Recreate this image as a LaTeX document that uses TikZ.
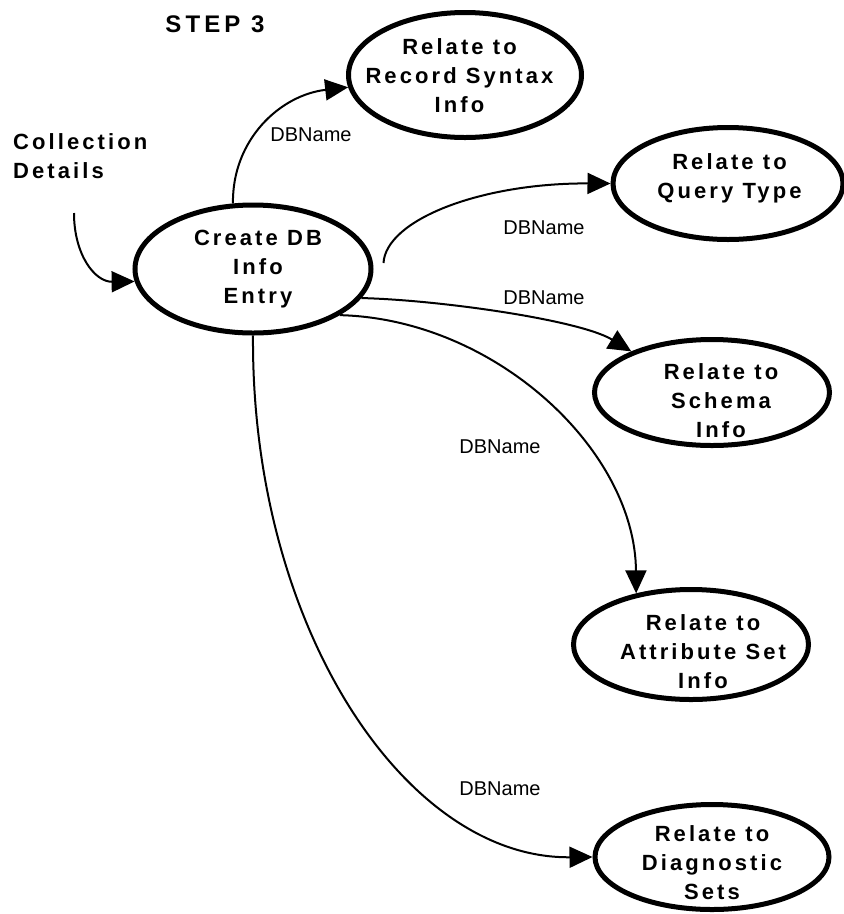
\documentclass[tikz,border=0pt]{standalone}
\usepackage{fontspec}
\setmainfont{Liberation Sans}
\newfontfamily\boxfont[LetterSpace=14]{Liberation Sans}
\newfontfamily\stepfont[LetterSpace=17]{Liberation Sans}
\usetikzlibrary{shapes.geometric,arrows.meta}

\tikzset{
  proc/.style={ellipse, draw, line width=5pt, inner sep=0pt},
  proctext/.style={align=center, inner sep=0pt,
    font=\boxfont\bfseries\fontsize{22}{29}\selectfont},
  flow/.style={line width=2pt, -{Triangle[length=23pt,width=21pt]}},
  flowlbl/.style={inner sep=0pt, font=\fontsize{20}{24}\selectfont},
}

\begin{document}
\begin{tikzpicture}[x=1pt,y=-1pt]
\useasboundingbox (0,0) rectangle (844,914);

% processes
\node[proc, minimum width=236pt, minimum height=128pt] (create) at (253,269) {};
\node[proc, minimum width=233pt, minimum height=125pt] (rec)    at (465,75)  {};
\node[proc, minimum width=230pt, minimum height=112pt] (qry)    at (728,183.5) {};
\node[proc, minimum width=235pt, minimum height=106pt] (sch)    at (712,392.5) {};
\node[proc, minimum width=235pt, minimum height=110pt] (att)    at (691,644.5) {};
\node[proc, minimum width=234pt, minimum height=105pt] (diag)   at (712,857) {};

% process names
\node[proctext] (create-t) at (258,269.5) {Create DB\\Info\\Entry};
\node[proctext] (rec-t)    at (459.5,76)  {Relate to\\Record Syntax\\Info};
\node[proctext] (qry-t)    at (729.5,178.5) {Relate to\\Query Type};
\node[proctext] (sch-t)    at (721,401)   {Relate to\\Schema\\Info};
\node[proctext] (att-t)    at (703,651.5) {Relate to\\Attribute Set\\Info};
\node[proctext] (diag-t)   at (712,862.5) {Relate to\\Diagnostic\\Sets};

% heading and external input
\node[inner sep=0pt, font=\stepfont\bfseries\fontsize{24}{28}\selectfont] (title) at (215,24) {STEP 3};
\node[proctext, align=left, anchor=west] (cd) at (13,156) {Collection\\Details};

% data flows
\coordinate (cd-src) at (74,213);
\coordinate (qry-src) at ([shift={(10pt,6pt)}]create.east);
\draw[flow] (cd-src) .. controls (74,255) and (95,282) .. (create.186);
\draw[flow] (create.107) .. controls (232,140) and (280,95) .. (rec.186);
\draw[flow] (qry-src) .. controls (386,220) and (480,183) .. (qry.west);
\draw[flow] (create.-15) .. controls (440,300) and (580,320) .. (sch.153);
\draw[flow] (create.-28) .. controls (495,319) and (635,450) .. (att.137);
\draw[flow] (create.south) .. controls (251,626) and (405,859) .. (diag.west);

% flow labels
\node[flowlbl] (l-rec)  at (311,135) {DBName};
\node[flowlbl] (l-qry)  at (544,228) {DBName};
\node[flowlbl] (l-sch)  at (544,298) {DBName};
\node[flowlbl] (l-att)  at (500,447) {DBName};
\node[flowlbl] (l-diag) at (500,789) {DBName};
\end{tikzpicture}
\end{document}
